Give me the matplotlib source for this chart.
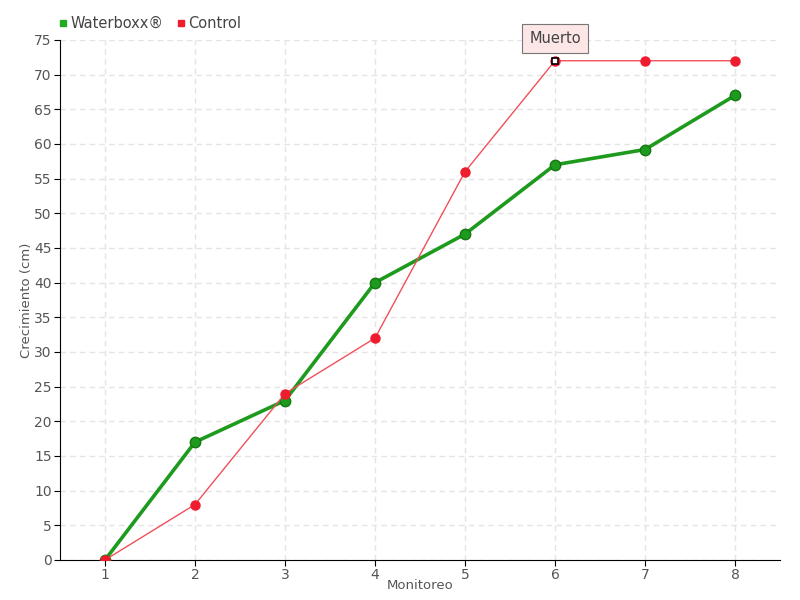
import matplotlib
matplotlib.use("Agg")
import matplotlib.pyplot as plt
from matplotlib.lines import Line2D

monitoreo = [1, 2, 3, 4, 5, 6, 7, 8]
waterboxx = [0, 17, 23, 40, 47, 57, 59.2, 67]
control = [0, 8, 24, 32, 56, 72, 72, 72]
dead_index = 5
dead_label = "Muerto"
yticks = list(range(0, 80, 5))

plt.rcParams['font.family'] = ['DejaVu Sans']
fig = plt.figure(figsize=(8, 6), dpi=100)
ax = fig.add_axes([0.075, 0.0667, 0.9, 0.8667])

green = '#1e9a1e'
red = '#ee1c2e'
ax.plot(monitoreo, waterboxx, color=green, lw=2.6, marker='o', ms=7.5,
        markerfacecolor='#1e9a1e', markeredgecolor='#147814', zorder=3)
ax.plot(monitoreo, control, color='#f0505a', lw=1, marker='o', ms=6.5,
        markerfacecolor=red, markeredgecolor=red, zorder=4)
ax.plot([monitoreo[dead_index]], [control[dead_index]], marker='s', ms=5,
        markerfacecolor='white', markeredgecolor='black', mew=1.2, zorder=5)

ax.annotate(dead_label, xy=(monitoreo[dead_index], control[dead_index]),
            xytext=(0, 16), textcoords='offset points', ha='center', va='center',
            fontsize=10.5, color='#444444',
            bbox=dict(boxstyle='square,pad=0.5', fc='#fde6e6', ec='#777777', lw=0.8),
            zorder=6)

ax.set_xlim(0.5, 8.5)
ax.set_ylim(0, 75)
ax.set_xticks(monitoreo)
ax.set_yticks(yticks)
ax.grid(True, color='#e4e4e4', ls=(0, (4, 3)), lw=1)
ax.set_axisbelow(True)
for s in ['top', 'right']:
    ax.spines[s].set_visible(False)
ax.tick_params(labelcolor='#555555', labelsize=10, length=4, pad=2,
               direction='out', color='black')
ax.set_xlabel('Monitoreo', color='#555555', fontsize=9.5, va='center')
ax.xaxis.set_label_coords(0.5, -0.0495)
ax.set_ylabel('Crecimiento (cm)', color='#555555', fontsize=9.5, va='center')
ax.yaxis.set_label_coords(-0.046, 0.5)

handles = [Line2D([], [], marker='s', ls='', color='#22aa22', ms=5),
           Line2D([], [], marker='s', ls='', color=red, ms=5)]
fig.legend(handles, ['Waterboxx®', 'Control'], loc='upper left',
           bbox_to_anchor=(0.055, 0.995), ncol=2, frameon=False,
           handletextpad=0.1, columnspacing=0.8, fontsize=10.5,
           labelcolor='#444444', handlelength=0.8)

fig.savefig('out.png', dpi=100)
